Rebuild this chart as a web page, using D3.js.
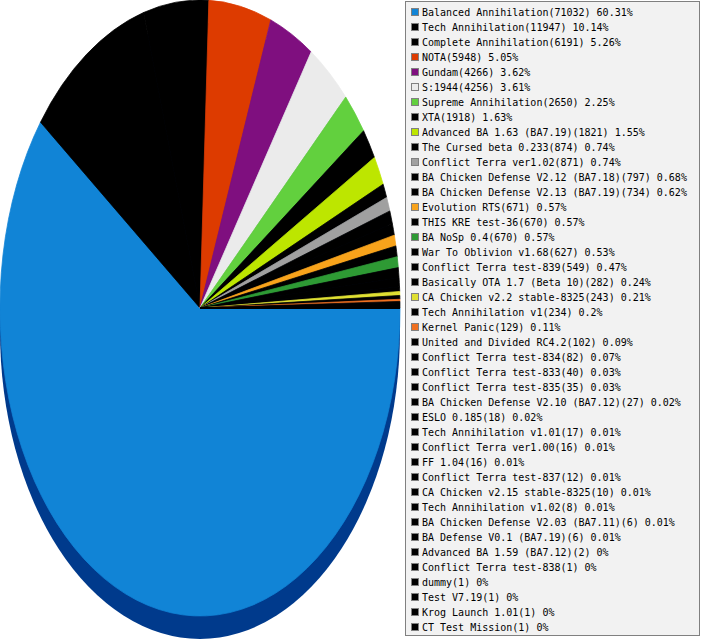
<!DOCTYPE html>
<html><head><meta charset="utf-8">
<script src="https://cdn.jsdelivr.net/npm/d3@7"></script>
<style>body{margin:0;background:#fff}svg{display:block}</style>
</head><body>
<svg id="c" width="701" height="640"></svg>
<script>
const names = ["Balanced Annihilation","Tech Annihilation","Complete Annihilation","NOTA","Gundam","S:1944","Supreme Annihilation","XTA","Advanced BA 1.63 (BA7.19)","The Cursed beta 0.233","Conflict Terra ver1.02","BA Chicken Defense V2.12 (BA7.18)","BA Chicken Defense V2.13 (BA7.19)","Evolution RTS","THIS KRE test-36","BA NoSp 0.4","War To Oblivion v1.68","Conflict Terra test-839","Basically OTA 1.7 (Beta 10)","CA Chicken v2.2 stable-8325","Tech Annihilation v1","Kernel Panic","United and Divided RC4.2","Conflict Terra test-834","Conflict Terra test-833","Conflict Terra test-835","BA Chicken Defense V2.10 (BA7.12)","ESLO 0.185","Tech Annihilation v1.01","Conflict Terra ver1.00","FF 1.04","Conflict Terra test-837","CA Chicken v2.15 stable-8325","Tech Annihilation v1.02","BA Chicken Defense V2.03 (BA7.11)","BA Defense V0.1 (BA7.19)","Advanced BA 1.59 (BA7.12)","Conflict Terra test-838","dummy","Test V7.19","Krog Launch 1.01","CT Test Mission"];
const counts = [71032,11947,6191,5948,4266,4256,2650,1918,1821,874,871,797,734,671,670,670,627,549,282,243,234,129,102,82,40,35,27,18,17,16,16,12,10,8,6,6,2,1,1,1,1,1];
const percents = ["60.31%","10.14%","5.26%","5.05%","3.62%","3.61%","2.25%","1.63%","1.55%","0.74%","0.74%","0.68%","0.62%","0.57%","0.57%","0.57%","0.53%","0.47%","0.24%","0.21%","0.2%","0.11%","0.09%","0.07%","0.03%","0.03%","0.02%","0.02%","0.01%","0.01%","0.01%","0.01%","0.01%","0.01%","0.01%","0.01%","0%","0%","0%","0%","0%","0%"];
const colorList = ["#1184d6","#000000","#000000","#dd3b00","#7f0f7f","#ebebeb","#62d03e","#000000","#bde600","#000000","#a0a0a0","#000000","#000000","#f8a31b","#000000","#2e9a34","#000000","#000000","#000000","#e0e032","#000000","#f07020"];

const data = names.map((n,i)=>({name:n, count:counts[i], pct:percents[i], color: colorList[i] || "#000000"}));

const svg = d3.select("#c");
const cx = 200, cy = 308, rx = 200, ry = 308, depth = 23;

// depth (3D edge)
svg.append("ellipse").attr("cx",cx).attr("cy",cy+depth).attr("rx",rx).attr("ry",ry).attr("fill","#003a8c");

const pie = d3.pie().value(d=>d.count).sort(null).startAngle(Math.PI/2).endAngle(Math.PI/2 + 2*Math.PI);
const arc = d3.arc().innerRadius(0).outerRadius(rx);
const g = svg.append("g").attr("transform",`translate(${cx},${cy}) scale(1,${ry/rx})`);
g.selectAll("path").data(pie(data)).join("path")
  .attr("d",arc).attr("fill",d=>d.data.color)
  .attr("stroke",d=>d.data.color).attr("stroke-width",0.6).attr("stroke-linejoin","round");

// legend
const lx = 405, ly = 1, lw = 295, lh = 635, rowH = 15;
svg.append("rect").attr("x",lx+0.5).attr("y",ly+0.5).attr("width",lw-1).attr("height",lh-1)
  .attr("fill","#f2f2f2").attr("stroke","#808080").attr("stroke-width",1);
const y = d3.scaleBand().domain(d3.range(data.length)).range([ly+4, ly+4+rowH*data.length]);
const items = svg.append("g").selectAll("g").data(data).join("g")
  .attr("transform",(d,i)=>`translate(${lx},${y(i)})`);
items.append("rect").attr("x",6.5).attr("y",3.5).attr("width",7).attr("height",7)
  .attr("fill",d=>d.color).attr("stroke","#808080").attr("stroke-width",1);
items.append("text").attr("x",17).attr("y",11)
  .attr("font-family","DejaVu Sans Mono, monospace").attr("font-size",10).attr("fill","#000")
  .text(d=>`${d.name}(${d.count}) ${d.pct}`);
</script>
</body></html>
